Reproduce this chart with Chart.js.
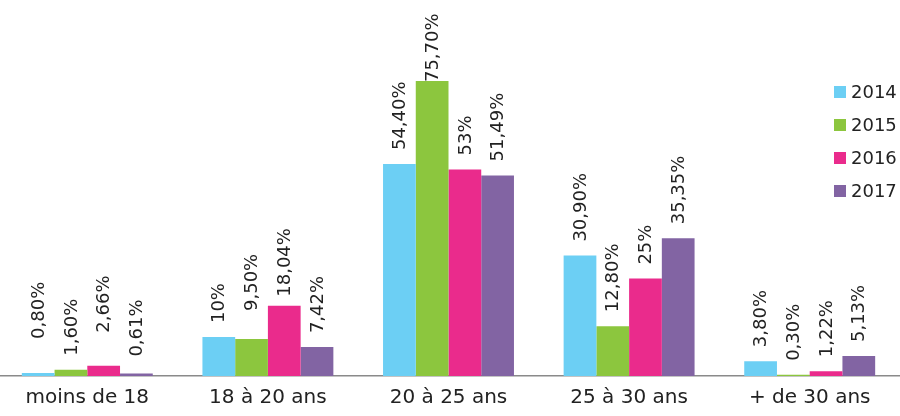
<!DOCTYPE html>
<html>
<head>
<meta charset="utf-8">
<script src="https://cdn.jsdelivr.net/npm/chart.js@4.4.1/dist/chart.umd.min.js"></script>
<style>
  html, body { margin: 0; padding: 0; background: #fff; overflow: hidden; }
  #wrap { position: relative; left: -3px; width: 903px; height: 416px; }
</style>
</head>
<body>
<div id="wrap"><canvas id="graf"></canvas></div>
<script>
// categories and values
const categories = ["moins de 18", "18 à 20 ans", "20 à 25 ans", "25 à 30 ans", "+ de 30 ans"];
const years = ["2014", "2015", "2016", "2017"];
const v2014 = [0.80, 10, 54.40, 30.90, 3.80];
const v2015 = [1.60, 9.50, 75.70, 12.80, 0.30];
const v2016 = [2.66, 18.04, 53, 25, 1.22];
const v2017 = [0.61, 7.42, 51.49, 35.35, 5.13];
// labels as printed on the bars
const t2014 = ["0,80%", "10%", "54,40%", "30,90%", "3,80%"];
const t2015 = ["1,60%", "9,50%", "75,70%", "12,80%", "0,30%"];
const t2016 = ["2,66%", "18,04%", "53%", "25%", "1,22%"];
const t2017 = ["0,61%", "7,42%", "51,49%", "35,35%", "5,13%"];

const colores = ["#6ccff4", "#8cc63e", "#ea2b8c", "#8264a3"];
const FONT = "'DejaVu Sans', sans-serif";

// a few labels were moved by hand in the original (extra lift in px, key = serie-categoria)
const ajusteEtiqueta = { "0-0": 20, "2-0": 19, "3-0": 3, "1-1": 14, "2-1": -5, "1-2": -15 };

// rotated value labels above each bar
const etiquetas = {
  id: "etiquetas",
  afterDatasetsDraw(chart) {
    const ctx = chart.ctx;
    ctx.save();
    ctx.font = "18px " + FONT;
    ctx.fillStyle = "#222";
    ctx.textAlign = "left";
    ctx.textBaseline = "middle";
    chart.data.datasets.forEach((ds, i) => {
      chart.getDatasetMeta(i).data.forEach((bar, j) => {
        const extra = ajusteEtiqueta[i + "-" + j] || 0;
        ctx.save();
        ctx.translate(bar.x + 1, bar.y - 14 - extra);
        ctx.rotate(-Math.PI / 2);
        ctx.fillText(ds.textos[j], 0, 0);
        ctx.restore();
      });
    });
    ctx.restore();
  }
};

// legend floating over the plot, top right
const leyenda = {
  id: "leyenda",
  afterDraw(chart) {
    const ctx = chart.ctx;
    ctx.save();
    ctx.font = "18px " + FONT;
    ctx.textBaseline = "middle";
    ctx.textAlign = "left";
    chart.data.datasets.forEach((ds, i) => {
      const y = 92 + i * 33;
      ctx.fillStyle = ds.backgroundColor;
      ctx.fillRect(837, y - 6, 12, 12);
      ctx.fillStyle = "#222";
      ctx.fillText(ds.label, 854, y + 1);
    });
    ctx.restore();
  }
};

const series = [v2014, v2015, v2016, v2017];
const textos = [t2014, t2015, t2016, t2017];

new Chart(document.getElementById("graf"), {
  type: "bar",
  data: {
    labels: categories,
    datasets: years.map((y, i) => ({
      label: y,
      data: series[i],
      textos: textos[i],
      backgroundColor: colores[i],
      categoryPercentage: 0.725,
      barPercentage: 1.0,
      borderWidth: 0
    }))
  },
  options: {
    responsive: true,
    maintainAspectRatio: false,
    animation: false,
    layout: { padding: 0 },
    plugins: {
      legend: { display: false },
      tooltip: { enabled: false }
    },
    scales: {
      x: {
        grid: { display: false, drawTicks: false },
        border: { display: true, color: "#8a8a8a", width: 1.5 },
        ticks: { color: "#222", font: { family: FONT, size: 20 }, padding: 10, maxRotation: 0 },
        afterFit(scale) { scale.height = 40; }
      },
      y: {
        display: false,
        min: 0,
        max: 96.5
      }
    }
  },
  plugins: [etiquetas, leyenda]
});
</script>
</body>
</html>
